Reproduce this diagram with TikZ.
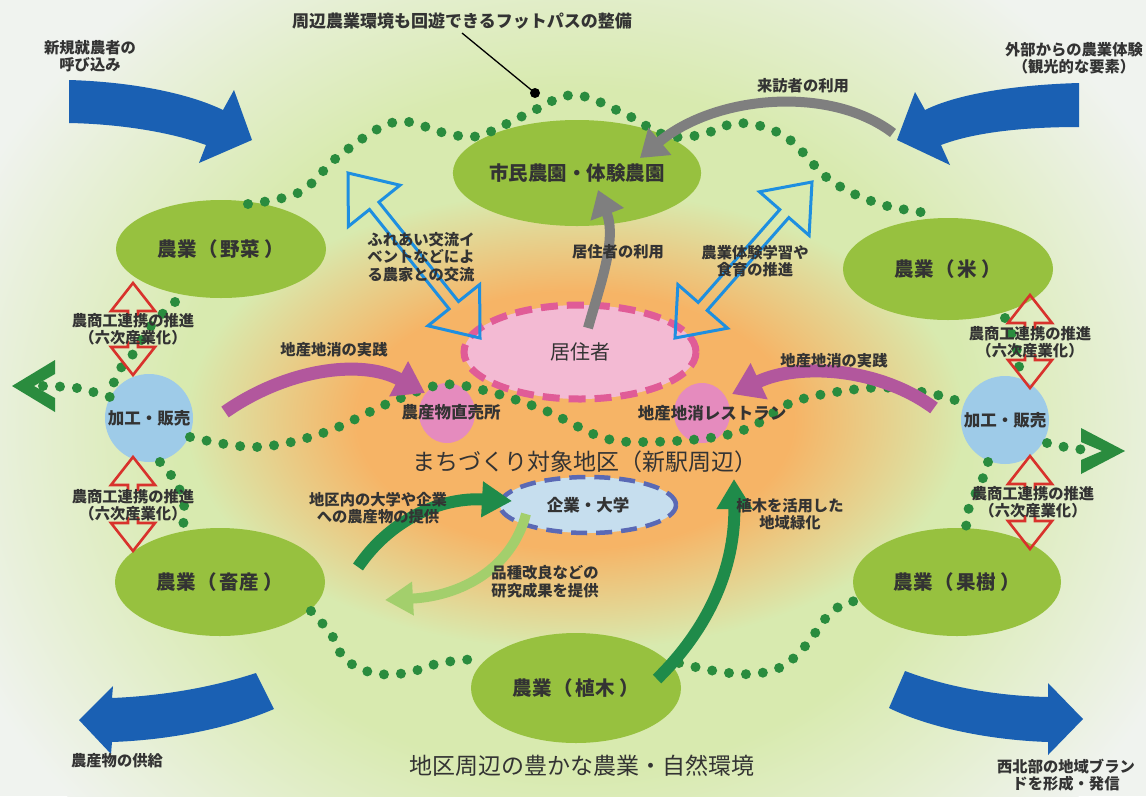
\documentclass[tikz,border=0pt]{standalone}
\usepackage{fontspec}
\setmainfont{Noto Sans CJK JP}
\usetikzlibrary{shapes.geometric,arrows.meta}

\definecolor{bgw}{HTML}{F0F3EF}
\definecolor{bgg}{HTML}{D8EAAF}
\definecolor{bgo}{HTML}{F6B466}
\definecolor{farm}{HTML}{97C13F}
\definecolor{dotg}{HTML}{2A8C3E}
\definecolor{bigblue}{HTML}{1A60B3}
\definecolor{skyb}{HTML}{9ECBE8}
\definecolor{pinkc}{HTML}{E58BBE}
\definecolor{pinkf}{HTML}{F3BAD3}
\definecolor{pinkd}{HTML}{E05C97}
\definecolor{compf}{HTML}{C6DEEE}
\definecolor{compd}{HTML}{5A69B5}
\definecolor{hollowb}{HTML}{1E8FE0}
\definecolor{redo}{HTML}{D8322C}
\definecolor{greyA}{HTML}{7F7F7F}
\definecolor{magA}{HTML}{B2579D}
\definecolor{dgreen}{HTML}{1F8B4A}
\definecolor{lgreen}{HTML}{A3CF6C}
\definecolor{txt}{HTML}{333333}

\pgfdeclareradialshading{greenbg}{\pgfpointorigin}{color(0bp)=(bgg); color(15bp)=(bgg); color(25bp)=(bgw); color(50bp)=(bgw)}
\pgfdeclareradialshading{orangebg}{\pgfpointorigin}{color(0bp)=(bgo); color(14bp)=(bgo); color(25bp)=(bgg); color(50bp)=(bgg)}

\newcommand{\farmfont}{\fontsize{19.5pt}{22pt}\selectfont\bfseries}
\newcommand{\lblfont}{\fontsize{15.3pt}{17.5pt}\selectfont\bfseries}
\newcommand{\midfont}{\fontsize{16.5pt}{19pt}\selectfont\bfseries}
\newcommand{\ttlfont}{\fontsize{23pt}{26pt}\selectfont}
\newcommand{\farmtxt}[2]{#1\hspace{0.08em}（\hspace{0.15em}#2\hspace{0.25em}）}

\newcommand{\redheads}[3]{%
 \draw[redarr] ({#1-5},{#2+34}) -- ({#1-5},{#2+28}) -- ({#1-22},{#2+28}) -- (#1,#2) -- ({#1+22},{#2+28}) -- ({#1+5},{#2+28}) -- ({#1+5},{#2+34});
 \draw[redarr] ({#1-5},{#3-34}) -- ({#1-5},{#3-28}) -- ({#1-22},{#3-28}) -- (#1,#3) -- ({#1+22},{#3-28}) -- ({#1+5},{#3-28}) -- ({#1+5},{#3-34});}

\begin{document}
\begin{tikzpicture}[x=1pt,y=-1pt,
  farmnode/.style={ellipse, fill=farm, inner sep=0pt, text=txt, font=\farmfont},
  procnode/.style={circle, fill=skyb, inner sep=0pt, minimum size=88pt, text=txt, font=\midfont},
  shopnode/.style={ellipse, fill=pinkc, inner sep=0pt, minimum width=56pt, minimum height=60pt},
  lbl/.style={text=txt, font=\lblfont, align=center, inner sep=0pt},
  midlbl/.style={text=txt, font=\midfont, align=center, inner sep=0pt},
  ttl/.style={text=txt, font=\ttlfont, inner sep=0pt},
  dots/.style={draw=dotg, line width=10pt, line cap=round, dash pattern=on 0pt off 17pt},
  greyarr/.style={draw=greyA, line width=10pt, -{Triangle[width=34pt,length=26pt]}},
  magarr/.style={draw=magA, line width=13pt, -{Triangle[width=38pt,length=30pt]}},
  dgarr/.style={draw=dgreen, line width=12pt, -{Triangle[width=34pt,length=30pt]}},
  lgarr/.style={draw=lgreen, line width=10pt, -{Triangle[width=32pt,length=28pt]}},
  hollow/.style={draw=hollowb, line width=3pt, line join=miter},
  redarr/.style={draw=redo, line width=2.6pt, line join=miter},
  bigarr/.style={fill=bigblue}
]
\useasboundingbox (0,0) rectangle (1146,796);
% background
\fill[bgw] (0,0) rectangle (1146,796);
\shade[shading=greenbg] (573,430) ellipse[x radius=660pt, y radius=570pt];
\shade[shading=orangebg] (575,420) ellipse[x radius=390pt, y radius=230pt];

% big blue arrows
\fill[bigarr] (69,80) .. controls (135,82) and (190,94) .. (223,110) -- (234,90) -- (252,140) -- (199,163) -- (206,145) .. controls (170,132) and (120,124) .. (69,123) -- cycle;
\fill[bigarr] (1079,83) .. controls (1010,85) and (955,95) .. (925,110) -- (915,92) -- (897,140) -- (950,165) -- (941,145) .. controls (975,132) and (1025,127) .. (1079,127) -- cycle;
\fill[bigarr] (256,673) .. controls (210,688) and (160,696) .. (112,698) -- (113,686) -- (79,720) -- (111,754) -- (112,742) .. controls (170,740) and (230,728) .. (274,709) -- cycle;
\fill[bigarr] (905,671) .. controls (950,688) and (1000,696) .. (1048,697) -- (1048,683) -- (1083,719) -- (1048,755) -- (1048,742) .. controls (990,740) and (930,728) .. (889,708) -- cycle;

% chevrons
\fill[dotg] (55,360) -- (12,386) -- (55,412) -- (55,398) -- (34,386) -- (55,374) -- cycle;
\fill[dotg] (1081,428) -- (1125,451) -- (1081,474) -- (1081,460) -- (1102,451) -- (1081,442) -- cycle;

% nodes
\node[farmnode, minimum width=210pt, minimum height=106pt] (shimin) at (577,173) {市民農園・体験農園};
\node[farmnode, minimum width=210pt, minimum height=98pt] (yasai) at (221,249) {\farmtxt{農業}{野菜}};
\node[farmnode, minimum width=210pt, minimum height=102pt] (kome) at (948,269) {\farmtxt{農業}{米}};
\node[farmnode, minimum width=210pt, minimum height=108pt] (chiku) at (220,582) {\farmtxt{農業}{畜産}};
\node[farmnode, minimum width=208pt, minimum height=108pt] (kaju) at (957,582) {\farmtxt{農業}{果樹}};
\node[farmnode, minimum width=210pt, minimum height=110pt] (ueki) at (576,688) {\farmtxt{農業}{植木}};
\node[procnode] (procL) at (149,418) {加工・販売};
\node[procnode] (procR) at (1005,420) {加工・販売};
\node[shopnode] (shopL) at (447,413) {};
\node[shopnode] (shopR) at (702,413) {};
\node[ellipse, fill=pinkf, draw=pinkd, line width=7pt, dash pattern=on 17pt off 9pt, minimum width=232pt, minimum height=94pt, inner sep=0pt, text=txt, font=\fontsize{20pt}{22pt}\selectfont] (resid) at (580,352) {居住者};
\node[ellipse, fill=compf, draw=compd, line width=4.5pt, dash pattern=on 16pt off 9pt, minimum width=176pt, minimum height=56pt, inner sep=0pt, text=txt, font=\midfont] (comp) at (588,505) {企業・大学};

% dotted foot paths
\draw[dots] plot[smooth, tension=0.6] coordinates {(248,204) (300,192) (340,155) (395,122) (445,133) (478,136) (525,115) (573,95) (623,113) (665,135) (700,135) (740,123) (786,137) (830,180) (880,204) (935,214)};
\draw[dots] plot[smooth] coordinates {(43,386) (77,388) (110,397)};
\draw[dots] plot[smooth] coordinates {(175,302) (150,327) (133,354) (118,372) (110,395)};
\draw[dots] plot[smooth, tension=0.6] coordinates {(190,437) (256,447) (323,433) (389,403) (440,385) (483,390) (544,410) (601,437) (642,442) (709,438) (751,427) (793,402) (850,390) (894,388) (946,397) (963,405)};
\draw[dots] plot[smooth] coordinates {(1047,443) (1070,448) (1096,451)};
\draw[dots] plot[smooth] coordinates {(988,462) (980,486) (970,503) (966,527)};
\draw[dots] plot[smooth] coordinates {(1005,318) (1016,346) (1020,376)};
\draw[dots] plot[smooth] coordinates {(160,462) (176,482) (184,504) (183,527)};
\draw[dots] plot[smooth, tension=0.6] coordinates {(311,611) (331,634) (345,659) (373,673) (406,673) (440,663) (475,659)};
\draw[dots] plot[smooth, tension=0.6] coordinates {(679,663) (715,671) (752,674) (783,666) (807,644) (825,619) (843,604) (858,601)};

% footpath pointer
\coordinate (footS) at (462,33);
\coordinate (footE) at (535,93);
\draw[black, line width=1.3pt] (footS) -- (footE);
\fill[black] (footE) circle[radius=5pt];

% hollow blue double arrows
\draw[hollow] (348,173) -- (348.4,226.4) -- (369.5,209.5) -- (449.1,308.9) -- (428.0,325.8) -- (480,338) -- (479.6,284.6) -- (458.5,301.5) -- (378.9,202.1) -- (400.0,185.2) -- cycle;
\draw[hollow] (812,182) -- (759.5,191.8) -- (779.8,209.6) -- (698.2,302.4) -- (677.9,284.6) -- (675,338) -- (727.5,328.2) -- (707.2,310.4) -- (788.8,217.6) -- (809.1,235.4) -- cycle;

% red double arrows (heads)
\redheads{133}{283}{375}
\redheads{133}{457}{551}
\redheads{1030}{295}{388}
\redheads{1030}{456}{549}

% curved arrows
\coordinate (visT) at (893,133); \coordinate (visH) at (640,158);
\draw[greyarr] (visT) .. controls (830,85) and (715,95) .. (visH);
\coordinate (resT) at (588,328); \coordinate (resH) at (598,190);
\draw[greyarr] (resT) .. controls (600,285) and (617,240) .. (resH);
\coordinate (magLT) at (225,412); \coordinate (magLH) at (425,393);
\draw[magarr] (magLT) .. controls (285,370) and (360,358) .. (magLH);
\coordinate (magRT) at (934,408); \coordinate (magRH) at (732,394);
\draw[magarr] (magRT) .. controls (880,368) and (800,362) .. (magRH);
\coordinate (uniT) at (358,567); \coordinate (uniH) at (512,501);
\draw[dgarr] (uniT) .. controls (390,520) and (440,497) .. (uniH);
\coordinate (uekT) at (657,679); \coordinate (uekH) at (734,479);
\draw[dgarr] (uekT) .. controls (715,622) and (735,560) .. (uekH);
\coordinate (resrT) at (526,514); \coordinate (resrH) at (385,600);
\draw[lgarr] (resrT) .. controls (512,568) and (462,596) .. (resrH);

% labels
\node[text=txt, font=\fontsize{17pt}{19pt}\selectfont\bfseries, inner sep=0pt] (footL) at (462,21) {周辺農業環境も回遊できるフットパスの整備};
\node[lbl] (newF) at (90,56) {新規就農者の\\呼び込み};
\node[lbl] (extL) at (1074,58) {外部からの農業体験\\（観光的な要素）};
\node[lbl] (visL) at (803,86) {来訪者の利用};
\node[lbl] (supL) at (117,761) {農産物の供給};
\node[lbl] (brandL) at (1066,775) {西北部の地域ブラン\\ドを形成・発信};
\node[lbl] (fureL) at (421,257) {ふれあい交流イ\\ベントなどによ\\る農家との交流};
\node[lbl] (resUL) at (618,252) {居住者の利用};
\node[lbl] (expL) at (755,261) {農業体験学習や\\食育の推進};
\node[lbl] (locL1) at (334,350) {地産地消の実践};
\node[lbl] (locL2) at (834,361) {地産地消の実践};
\node[lbl] (sixA) at (133,329) {農商工連携の推進\\（六次産業化）};
\node[lbl] (sixB) at (133,505) {農商工連携の推進\\（六次産業化）};
\node[lbl] (sixC) at (1030,342) {農商工連携の推進\\（六次産業化）};
\node[lbl] (sixD) at (1033,502) {農商工連携の推進\\（六次産業化）};
\node[lbl] (uniL) at (378,508) {地区内の大学や企業\\への農産物の提供};
\node[lbl] (resL) at (545,582) {品種改良などの\\研究成果を提供};
\node[lbl] (grnL) at (790,514) {植木を活用した\\地域緑化};
\node[midlbl] (shopLt) at (451,412) {農産物直売所};
\node[midlbl] (shopRt) at (712,413) {地産地消レストラン};
\node[ttl] (mainT) at (585,462) {まちづくり対象地区（新駅周辺）};
\node[ttl] (envT) at (582,766) {地区周辺の豊かな農業・自然環境};
\end{tikzpicture}
\end{document}
